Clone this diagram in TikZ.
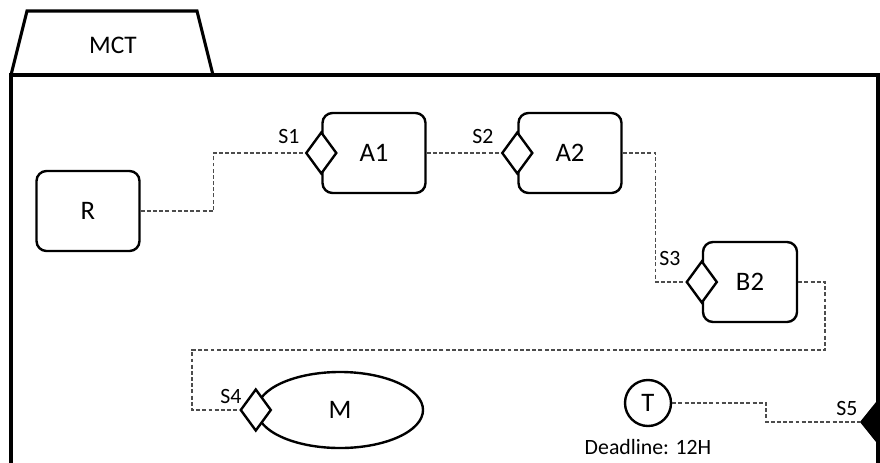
\documentclass[tikz,border=0pt]{standalone}
\usepackage{fontspec}
\setmainfont{Carlito}
\usetikzlibrary{shapes.geometric,positioning}

\tikzset{
  frame/.style={line width=2.2pt, line join=miter},
  task/.style={draw, line width=1.7pt, rounded corners=0.25cm, minimum width=2.575cm, minimum height=2cm, font=\fontsize{19}{22}\selectfont},
  port/.style={draw, diamond, fill=white, line width=1.7pt, minimum width=0.775cm, minimum height=1.05cm, inner sep=0pt},
  portlabel/.style={font=\fontsize{15.5}{18}\selectfont, inner sep=0pt},
  link/.style={draw=gray!60!black, dash pattern=on 2.8pt off 1.6pt, line width=0.75pt},
}

\begin{document}
\begin{tikzpicture}[x=0.025cm, y=-0.025cm]
\useasboundingbox (0,0) rectangle (880,462);
% package frame with its tab
\draw[frame] (11,75) -- (27,11) -- (197,11) -- (213,75);
\draw[frame] (11,470) -- (11,75) -- (878,75) -- (878,470);
\node[font=\fontsize{18}{21}\selectfont] (mct) at (113,45) {MCT};

% tasks
\node[task] (R) at (88,211) {R};
\node[task] (A1) at (374,153) {A1};
\node[task] (A2) at (570,153) {A2};
\node[task, minimum width=2.35cm] (B2) at (750,282) {B2};
\node[draw, ellipse, line width=1.7pt, minimum width=4.15cm, minimum height=1.9cm, font=\fontsize{19}{22}\selectfont] (M) at (340,410) {M};
\node[draw, circle, line width=1.7pt, minimum size=1.15cm, inner sep=0pt, font=\fontsize{19}{22}\selectfont] (T) at (648,403) {T};
\node[portlabel, below=0.3cm of T] (deadline) {Deadline: 12H};

% ports
\node[port] (s1) at (A1.west) {};
\node[port] (s2) at (A2.west) {};
\node[port] (s3) at (B2.west) {};
\node[port] (s4) at (M.west) {};
\node[port, fill=black, minimum width=0.85cm] (s5) at (878,422) {};
\node[portlabel] (s1l) at (289,136) {S1};
\node[portlabel] (s2l) at (483,136) {S2};
\node[portlabel] (s3l) at (670,258) {S3};
\node[portlabel] (s4l) at (231,396) {S4};
\node[portlabel] (s5l) at (847,408) {S5};

% links
\draw[link] (R.east) -- ++(73,0) |- (s1.west);
\draw[link] (A1.east) -- (s2.west);
\draw[link] (A2.east) -- ++(33,0) |- (s3.west);
\draw[link] (B2.east) -| (825,350) -| (192,410) -- (s4.west);
\draw[link] (T.east) -| (766,422) -- (s5.west);
\end{tikzpicture}
\end{document}
